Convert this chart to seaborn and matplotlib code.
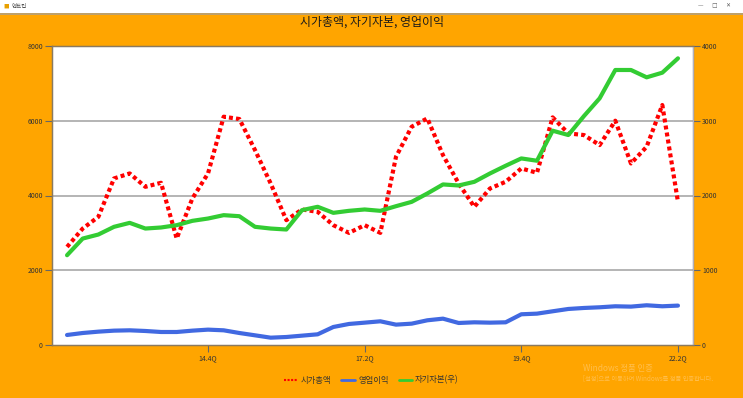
import matplotlib
matplotlib.use("Agg")
import matplotlib.pyplot as plt
import matplotlib.patches as mpatches
from matplotlib.lines import Line2D
import seaborn as sns
import pandas as pd
import numpy as np

# ---- data ----
quarters = list(range(40))  # 12.3Q ... 22.2Q
tick_pos = [9, 19, 29, 39]
tick_labels = ["14.4Q", "17.2Q", "19.4Q", "22.2Q"]

market_cap = [2625, 3116, 3429, 4456, 4590, 4233, 4340, 2849, 3920, 4590,
              6108, 6046, 5215, 4322, 3340, 3626, 3563, 3206, 3000, 3206,
              3000, 5036, 5840, 6063, 5081, 4322, 3697, 4188, 4367, 4724,
              4608, 6090, 5662, 5617, 5349, 6001, 4858, 5304, 6421, 3831]
op_profit = [268, 321, 357, 384, 393, 375, 348, 348, 384, 411,
             393, 321, 259, 196, 214, 250, 286, 482, 563, 598,
             634, 545, 571, 661, 705, 589, 607, 598, 607, 822,
             839, 902, 964, 991, 1009, 1036, 1027, 1063, 1036, 1054]
equity = [1201, 1424, 1478, 1581, 1634, 1558, 1572, 1603, 1661, 1692,
          1737, 1723, 1581, 1558, 1545, 1804, 1849, 1768, 1795, 1813,
          1795, 1857, 1915, 2027, 2148, 2134, 2183, 2295, 2398, 2496,
          2465, 2867, 2809, 3063, 3300, 3679, 3679, 3581, 3643, 3835]

df = pd.DataFrame({"q": quarters, "mc": market_cap, "op": op_profit, "eq": equity})

sns.set_theme(style="white")
plt.rcParams['font.family'] = ['Noto Sans CJK KR', 'DejaVu Sans']

ORANGE = "#FFA500"
RED = "#FF0000"
BLUE = "#4169E1"
GREEN = "#33CC33"

fig = plt.figure(figsize=(7.43, 3.98), dpi=100, facecolor=ORANGE)
ax = fig.add_axes([52/743, 1-345/398, (693-52)/743, (345-46)/398])
ax.set_facecolor("white")
ax2 = ax.twinx()

sns.lineplot(data=df, x="q", y="mc", ax=ax, color=RED, linewidth=3.0,
             linestyle=(0, (0.95, 0.75)), dash_capstyle="butt", zorder=4)
sns.lineplot(data=df, x="q", y="op", ax=ax, color=BLUE, linewidth=3.0, zorder=3)
sns.lineplot(data=df, x="q", y="eq", ax=ax2, color=GREEN, linewidth=3.0, zorder=3)

ax.set_xlim(-0.96, 39.96)
ax.set_ylim(0, 8000)
ax2.set_ylim(0, 4000)
ax.set_yticks([0, 2000, 4000, 6000, 8000])
ax.set_yticklabels(["0", "2000", "4000", "6000", "8000"])
ax2.set_yticks([0, 1000, 2000, 3000, 4000])
ax2.set_yticklabels(["0", "1000", "2000", "3000", "4000"])
ax.set_xticks(tick_pos)
ax.set_xticklabels(tick_labels)
for a in (ax, ax2):
    a.set_xlabel("")
    a.set_ylabel("")

for yv in [2000, 4000, 6000]:
    ax.axhline(yv, color="#A8A8A8", linewidth=1.2, zorder=1)

ax.tick_params(axis="both", which="both", length=5, width=0.8, color="#666666",
               labelsize=5, labelcolor="#333333", pad=1.5, direction="out")
ax.tick_params(axis="x", bottom=True)
ax.tick_params(axis="y", left=True)
ax2.tick_params(axis="y", right=True, length=5, width=0.8, color="#666666",
                labelsize=5, labelcolor="#333333", pad=1.5, direction="out")

for a in (ax, ax2):
    for s in a.spines.values():
        s.set_color("#8a7a60")
        s.set_linewidth(0.9)
ax2.spines["right"].set_color("#b0b0c0")

ax.get_legend() and ax.get_legend().remove()
ax2.get_legend() and ax2.get_legend().remove()

fig.text(0.5, 1-22/398, "시가총액, 자기자본, 영업이익", ha="center", va="center",
         fontsize=8.6, color="#1a1a1a")

handles = [Line2D([], [], color=RED, linewidth=1.5, linestyle=(0, (1, 0.7))),
           Line2D([], [], color=BLUE, linewidth=2.0),
           Line2D([], [], color=GREEN, linewidth=2.0)]
fig.legend(handles, ["시가총액", "영업이익", "자기자본(우)"], loc="center",
           bbox_to_anchor=(0.5, 1-380/398), ncol=3, frameon=False,
           fontsize=6, handlelength=1.6, handletextpad=0.4, columnspacing=1.2,
           labelcolor="#333333")

# window chrome strip at top
fig.patches.append(mpatches.Rectangle((0, 1-13/398), 1, 13/398, transform=fig.transFigure,
                                      facecolor="white", edgecolor="none", zorder=0))
fig.lines.append(Line2D([0, 1], [1-14/398, 1-14/398], transform=fig.transFigure,
                        color="#b0a080", linewidth=1.2))
fig.text(0.004, 1-6/398, "■", fontsize=4, color="#e8a000", va="center")
fig.text(0.016, 1-6/398, "엔트립", fontsize=4, color="#555555", va="center")
fig.text(0.94, 1-6/398, "—     □     ✕", fontsize=4, color="#555555", va="center",
         family=["DejaVu Sans"])

# faint windows watermark
fig.text(583/743, 1-368/398, "Windows 정품 인증", fontsize=6, color="#FFBE4D", va="center")
fig.text(583/743, 1-378/398, "[설정]으로 이동하여 Windows를 정품 인증합니다.", fontsize=4.5,
         color="#FFBE4D", va="center")

fig.savefig("out.png", dpi=100, facecolor=ORANGE)
